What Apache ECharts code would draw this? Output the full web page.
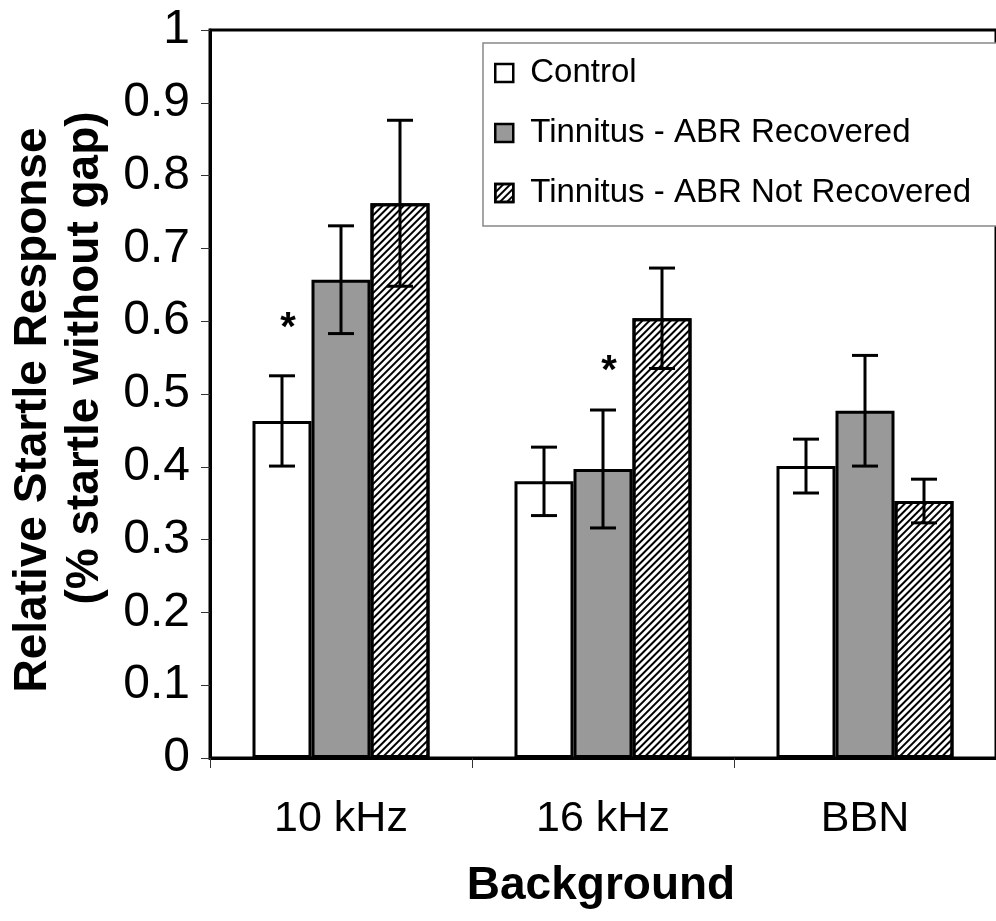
<!DOCTYPE html>
<html>
<head>
<meta charset="utf-8">
<script src="https://cdn.jsdelivr.net/npm/echarts@6/dist/echarts.min.js"></script>
<style>html,body{margin:0;padding:0;background:#fff;overflow:hidden;}#chart{width:996px;height:921px;}</style>
</head>
<body>
<div id="chart"></div>
<script>
const categories = ['10 kHz', '16 kHz', 'BBN'];
const seriesNames = ['Control', 'Tinnitus - ABR Recovered', 'Tinnitus - ABR Not Recovered'];
const controlMean = [0.463, 0.380, 0.401];
const controlErr = [0.062, 0.047, 0.037];
const recoveredMean = [0.657, 0.397, 0.477];
const recoveredErr = [0.074, 0.081, 0.076];
const notRecoveredMean = [0.762, 0.604, 0.353];
const notRecoveredErr = [0.114, 0.069, 0.030];
const yTicks = [0, 0.1, 0.2, 0.3, 0.4, 0.5, 0.6, 0.7, 0.8, 0.9, 1];
const starCategory = ['10 kHz', '16 kHz'];
const starSeries = [0, 1];
const starValue = [0.59, 0.53];

const FONT = "'Liberation Sans', Arial, sans-serif";
const BAR_W = 59;
const means = [controlMean, recoveredMean, notRecoveredMean];
const errs = [controlErr, recoveredErr, notRecoveredErr];
const styles = [
  {color: '#ffffff', borderColor: '#000', borderWidth: 3},
  {color: '#999999', borderColor: '#000', borderWidth: 3},
  {color: '#ffffff', borderColor: '#000', borderWidth: 3,
   decal: {symbol: 'rect', symbolSize: 1, color: '#000', dashArrayX: [1, 0], dashArrayY: [2, 3], rotation: -Math.PI / 4}}
];

const chart = echarts.init(document.getElementById('chart'), null, {renderer: 'canvas', width: 996, height: 921});

const barSeries = seriesNames.map((name, i) => ({
  name: name,
  type: 'bar',
  barWidth: BAR_W,
  barGap: '0%',
  itemStyle: styles[i],
  emphasis: {disabled: true},
  data: means[i],
  z: 2
}));

const errSeries = seriesNames.map((name, i) => ({
  name: 'err' + i,
  type: 'custom',
  z: 5,
  data: categories.map((c, k) => [k, means[i][k], errs[i][k]]),
  renderItem: function (params, api) {
    const k = api.value(0), m = api.value(1), e = api.value(2);
    const hi = api.coord([k, m + e]);
    const lo = api.coord([k, m - e]);
    const x = hi[0] + (i - 1) * BAR_W;
    const cap = 13;
    const st = {stroke: '#000', lineWidth: 3};
    return {type: 'group', children: [
      {type: 'line', shape: {x1: x, y1: hi[1], x2: x, y2: lo[1]}, style: st},
      {type: 'line', shape: {x1: x - cap, y1: hi[1], x2: x + cap, y2: hi[1]}, style: st},
      {type: 'line', shape: {x1: x - cap, y1: lo[1], x2: x + cap, y2: lo[1]}, style: st}
    ]};
  }
}));

const starSer = {
  name: 'stars',
  type: 'custom',
  z: 6,
  data: starCategory.map((c, k) => [categories.indexOf(c), starValue[k], starSeries[k]]),
  renderItem: function (params, api) {
    const p = api.coord([api.value(0), api.value(1)]);
    const x = p[0] + (api.value(2) - 1) * BAR_W + 6;
    return {type: 'text', x: x, y: p[1], style: {text: '*', font: 'bold 40px ' + FONT, fill: '#000', align: 'center', verticalAlign: 'middle'}};
  }
};

chart.setOption({
  animation: false,
  backgroundColor: '#fff',
  grid: {left: 210, top: 30, width: 792, height: 728, show: true, borderColor: '#000', borderWidth: 3, backgroundColor: 'transparent'},
  legend: {
    data: seriesNames,
    orient: 'vertical',
    left: 483, top: 43,
    padding: [12, 0, 14, 11],
    itemGap: 24,
    itemWidth: 18, itemHeight: 18,
    z: 10,
    borderWidth: 0,
    icon: 'rect',
    itemStyle: {borderWidth: 2.5, borderColor: '#000'},
    textStyle: {fontSize: 33, fontFamily: FONT, color: '#000', lineHeight: 36, padding: [0, 0, 0, 12]},
    selectedMode: false
  },
  xAxis: {
    type: 'category',
    data: categories,
    axisLine: {lineStyle: {color: '#000', width: 3}},
    axisTick: {show: true, length: 10, lineStyle: {color: '#333', width: 1}},
    axisLabel: {fontSize: 43, fontFamily: FONT, color: '#000', margin: 40},
    splitLine: {show: false}
  },
  yAxis: {
    type: 'value',
    min: yTicks[0], max: yTicks[yTicks.length - 1], interval: 0.1,
    axisLine: {show: true, lineStyle: {color: '#000', width: 3}},
    axisTick: {show: true, length: 9, lineStyle: {color: '#333', width: 1}},
    axisLabel: {fontSize: 48, fontFamily: FONT, color: '#000', margin: 20,
      formatter: v => String(Math.round(v * 10) / 10)},
    splitLine: {show: false}
  },
  graphic: [
    {type: 'rect', z: 8, shape: {x: 483, y: 43, width: 600, height: 183},
     style: {fill: '#fff', stroke: null}},
    {type: 'polyline', z: 9, shape: {points: [[1100, 43], [483, 43], [483, 226], [1100, 226]]},
     style: {fill: null, stroke: '#888', lineWidth: 1.5}},
    {type: 'text', x: 33, y: 410, rotation: Math.PI / 2,
     style: {text: 'Relative Startle Response', font: 'bold 46px ' + FONT, fill: '#000', align: 'center', verticalAlign: 'middle'}},
    {type: 'text', x: 85, y: 358, rotation: Math.PI / 2,
     style: {text: '(% startle without gap)', font: 'bold 46px ' + FONT, fill: '#000', align: 'center', verticalAlign: 'middle'}},
    {type: 'text', x: 601, y: 886,
     style: {text: 'Background', font: 'bold 46px ' + FONT, fill: '#000', align: 'center', verticalAlign: 'middle'}}
  ],
  series: barSeries.concat(errSeries, [starSer])
});
</script>
</body>
</html>
